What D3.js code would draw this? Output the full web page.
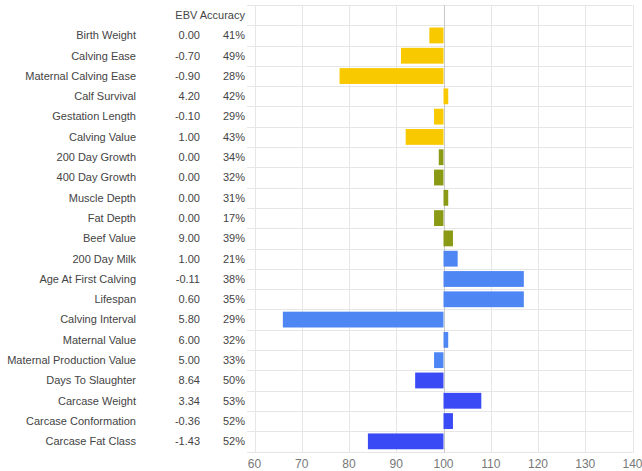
<!DOCTYPE html>
<html>
<head>
<meta charset="utf-8">
<script src="https://cdn.jsdelivr.net/npm/d3@7"></script>
<style>
  body { margin: 0; background: #fff; }
  text { font-family: Arial, "Liberation Sans", sans-serif; }
</style>
</head>
<body>
<svg width="642" height="471"></svg>
<script>
// traits, EBVs, accuracy and index value (bar, centred on 100)
var traits = ["Birth Weight", "Calving Ease", "Maternal Calving Ease", "Calf Survival",
    "Gestation Length", "Calving Value", "200 Day Growth", "400 Day Growth", "Muscle Depth",
    "Fat Depth", "Beef Value", "200 Day Milk", "Age At First Calving", "Lifespan",
    "Calving Interval", "Maternal Value", "Maternal Production Value", "Days To Slaughter",
    "Carcase Weight", "Carcase Conformation", "Carcase Fat Class"];
var ebv = ["0.00", "-0.70", "-0.90", "4.20", "-0.10", "1.00", "0.00", "0.00", "0.00",
    "0.00", "9.00", "1.00", "-0.11", "0.60", "5.80", "6.00", "5.00", "8.64", "3.34", "-0.36", "-1.43"];
var accuracy = ["41%", "49%", "28%", "42%", "29%", "43%", "34%", "32%", "31%", "17%", "39%",
    "21%", "38%", "35%", "29%", "32%", "33%", "50%", "53%", "52%", "52%"];
var index = [97, 91, 78, 101, 98, 92, 99, 98, 101, 98, 102, 103, 117, 117, 66, 101, 98, 94, 108, 102, 84];
var group = ["calving", "calving", "calving", "calving", "calving", "calving",
    "beef", "beef", "beef", "beef", "beef",
    "maternal", "maternal", "maternal", "maternal", "maternal", "maternal",
    "carcase", "carcase", "carcase", "carcase"];
var xTicks = [60, 70, 80, 90, 100, 110, 120, 130, 140];

var colour = d3.scaleOrdinal()
    .domain(["calving", "beef", "maternal", "carcase"])
    .range(["#f9c900", "#8a9a14", "#4e87f4", "#3a4bf6"]);

var svg = d3.select("svg");

var x = d3.scaleLinear().domain([60, 140]).range([254.5, 632.5]);
var rows = d3.scaleBand().domain(traits).range([25.3, 451.5]);
var y = d3.scaleBand().domain(traits).range([25.3, 451.5])
    .paddingInner(0.22).paddingOuter(0.11);

var topY = 5;

// horizontal grid lines
var hl = [topY].concat(traits.map(function (d) { return rows(d); }), [rows.range()[1]]);
svg.append("g")
    .selectAll("line")
    .data(hl)
    .enter().append("line")
    .attr("x1", 247).attr("x2", x(140))
    .attr("y1", function (d) { return Math.round(d) + 0.5; })
    .attr("y2", function (d) { return Math.round(d) + 0.5; })
    .attr("stroke", "#e6e6e6");

// vertical grid lines
svg.append("g")
    .selectAll("line")
    .data(xTicks)
    .enter().append("line")
    .attr("x1", function (d) { return Math.round(x(d)) + 0.5; })
    .attr("x2", function (d) { return Math.round(x(d)) + 0.5; })
    .attr("y1", topY).attr("y2", 453)
    .attr("stroke", function (d) { return d == 100 ? "#c8c8c8" : "#e6e6e6"; });

// bars
svg.append("g")
    .selectAll("rect")
    .data(traits)
    .enter().append("rect")
    .attr("x", function (d, i) { return x(Math.min(index[i], 100)); })
    .attr("width", function (d, i) { return Math.abs(x(index[i]) - x(100)); })
    .attr("y", function (d) { return y(d); })
    .attr("height", y.bandwidth())
    .attr("fill", function (d, i) { return colour(group[i]); });

// table text
var tbl = svg.append("g")
    .attr("font-size", 11)
    .attr("fill", "#444");

tbl.append("text")
    .attr("x", 245).attr("y", topY + rows.step() / 2)
    .attr("dy", "0.35em")
    .attr("text-anchor", "end")
    .text("EBV Accuracy");

var cols = [[136, traits], [200, ebv], [245, accuracy]];
cols.forEach(function (c) {
    tbl.append("g")
        .selectAll("text")
        .data(c[1])
        .enter().append("text")
        .attr("x", c[0])
        .attr("y", function (d, i) { return rows(traits[i]) + rows.bandwidth() / 2; })
        .attr("dy", "0.35em")
        .attr("text-anchor", "end")
        .text(function (d) { return d; });
});

// x axis labels
svg.append("g")
    .attr("font-size", 12)
    .attr("fill", "#777")
    .selectAll("text")
    .data(xTicks)
    .enter().append("text")
    .attr("x", function (d) { return x(d); })
    .attr("y", 464)
    .attr("dy", "0.35em")
    .attr("text-anchor", "middle")
    .text(function (d) { return d; });
</script>
</body>
</html>
